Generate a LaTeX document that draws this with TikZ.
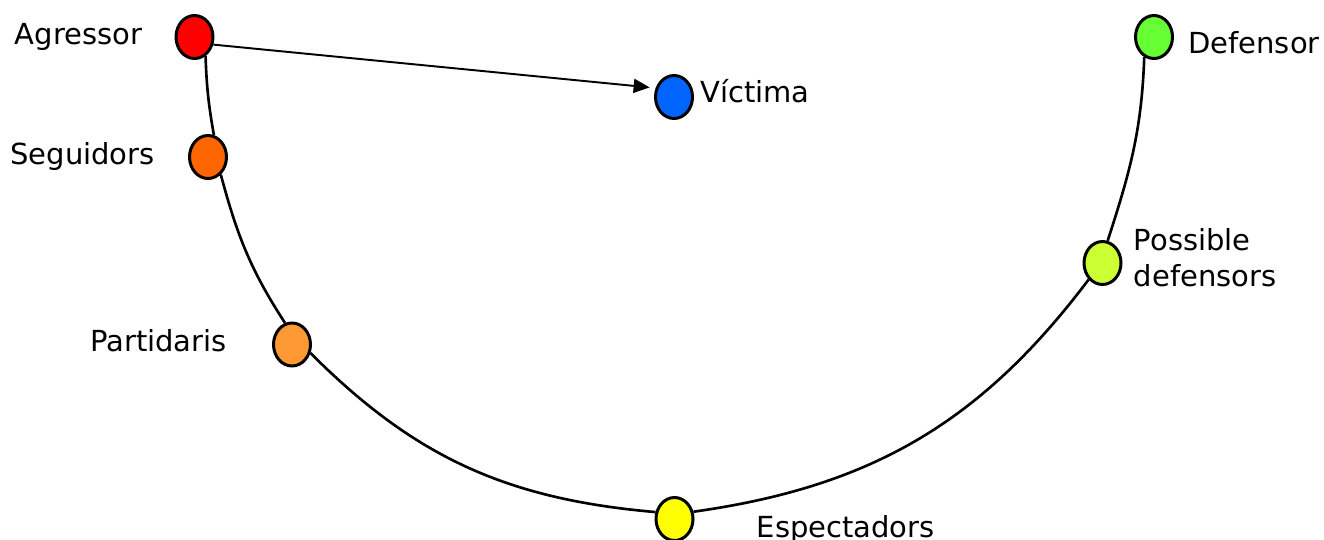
\documentclass[tikz,border=0pt]{standalone}
\usepackage{fontspec}
\setmainfont{DejaVu Sans}
\usepackage{tikz}
\usetikzlibrary{shapes.geometric}
\usetikzlibrary{arrows.meta}
\usetikzlibrary{positioning}

\definecolor{agressorred}{HTML}{FF0000}
\definecolor{seguidorsorange}{HTML}{FF6600}
\definecolor{partidarisorange}{HTML}{FF9933}
\definecolor{espectadorsyellow}{HTML}{FFFF00}
\definecolor{possiblegreen}{HTML}{CCFF33}
\definecolor{defensorgreen}{HTML}{66FF33}
\definecolor{victimablue}{HTML}{0066FF}

\tikzset{
  rolenode/.style={ellipse, draw=black, line width=1.7pt, inner sep=0pt,
    minimum width=0.74cm, minimum height=0.86cm},
  roletext/.style={inner sep=0pt, font=\fontsize{16.5}{20.5}\selectfont},
  arc/.style={line width=1.5pt}
}

\begin{document}
\begin{tikzpicture}
    [x=0.02cm, y=-0.02cm]
    \useasboundingbox (0,0) rectangle (1324,540);

    \node (ag) [rolenode, fill=agressorred] at (194.5,37) {};
    \node (se) [rolenode, fill=seguidorsorange] at (208,157) {};
    \node (pa) [rolenode, fill=partidarisorange] at (292,344.5) {};
    \node (es) [rolenode, fill=espectadorsyellow] at (674.5,519) {};
    \node (pd) [rolenode, fill=possiblegreen] at (1102.5,263) {};
    \node (de) [rolenode, fill=defensorgreen] at (1154,37) {};
    \node (vi) [rolenode, fill=victimablue] at (674,97) {};

    \node (agt) [roletext, left=0.64cm of ag] {Agressor};
    \node (set) [roletext, left=0.66cm of se] {Seguidors};
    \node (pat) [roletext, left=0.9cm of pa, yshift=0.07cm] {Partidaris};
    \node (est) [roletext, right=1.24cm of es, yshift=-0.21cm] {Espectadors};
    \node (pdt) [roletext, right=0.22cm of pd, yshift=0.1cm, align=left] {Possible\\defensors};
    \node (det) [roletext, right=0.28cm of de, yshift=-0.12cm] {Defensor};
    \node (vit) [roletext, right=0.12cm of vi, yshift=0.11cm] {Víctima};

    % the arc of roles
    \draw [arc] (ag.-60) to [out=-88, in=100] (se.75);
    \draw [arc] (se.-54) to [out=-75, in=123] (pa.108);
    \draw [arc] (pa.-25) to [out=-45, in=175] (es.160);
    \draw [arc] (es.21) to [out=8, in=233] (pd.-130);
    \draw [arc] (pd.77) to [out=72, in=-92] (de.-116);

    \draw [-{Triangle[length=0.32cm, width=0.28cm]}, line width=1.1pt, shorten >=0.12cm] (ag.-22) -- (vi.154);
  \end{tikzpicture}
\end{document}
